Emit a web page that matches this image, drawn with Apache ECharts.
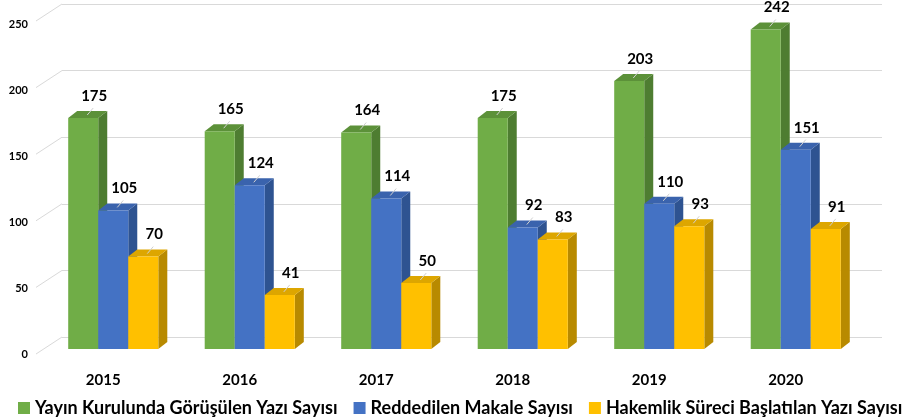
<!DOCTYPE html>
<html>
<head>
<meta charset="utf-8">
<script src="https://cdn.jsdelivr.net/npm/echarts@6/dist/echarts.min.js"></script>
<style>
  html, body { margin: 0; padding: 0; background: #fff; }
  #chart { width: 912px; height: 420px; }
</style>
</head>
<body>
<div id="chart"></div>
<script>
const years = ['2015', '2016', '2017', '2018', '2019', '2020'];
const seriesNames = ['Yayın Kurulunda Görüşülen Yazı Sayısı', 'Reddedilen Makale Sayısı', 'Hakemlik Süreci Başlatılan Yazı Sayısı'];
const gorusulen = [175, 165, 164, 175, 203, 242];
const reddedilen = [105, 124, 114, 92, 110, 151];
const hakemlik = [70, 41, 50, 83, 93, 91];
const yTicks = [0, 50, 100, 150, 200, 250];

// front / side / top colours for each series
const palette = [
    { front: '#70AD47', side: '#4E7D31', top: '#5C9139' },
    { front: '#4472C4', side: '#2E5391', top: '#3A63AD' },
    { front: '#FFC000', side: '#B88A00', top: '#DDA600' }
];
const FONT = 'Lato, "Open Sans", sans-serif';
const DX = 9, DY = 7; // bar depth

function barRenderer (s) {
    return function (params, api) {
        const idx = api.value(0);
        const val = api.value(1);
        const top = api.coord([idx, val]);
        const base = api.coord([idx, 0]);
        const w = api.size([1, 0])[0] * 0.22;
        const x0 = top[0] + (s - 1.5) * w;
        const x1 = x0 + w;
        const y0 = top[1];
        const y1 = base[1];
        const c = palette[s];
        const cx = (x0 + x1) / 2;
        return {
            type: 'group',
            children: [
                { type: 'polygon', shape: { points: [[x1, y0], [x1 + DX, y0 - DY], [x1 + DX, y1 - DY], [x1, y1]] }, style: { fill: c.side } },
                { type: 'polygon', shape: { points: [[x0, y0], [x0 + DX, y0 - DY], [x1 + DX, y0 - DY], [x1, y0]] }, style: { fill: c.top } },
                { type: 'rect', shape: { x: x0, y: y0, width: w, height: y1 - y0 }, style: { fill: c.front } },
                { type: 'line', shape: { x1: cx + 4, y1: y0 - 3, x2: cx + 10, y2: y0 - 10 }, style: { stroke: '#d0d0d0', lineWidth: 1 } },
                { type: 'text', x: cx + 11, y: y0 - 22, style: { text: String(val), fill: '#000', font: 'bold 15px ' + FONT, align: 'center', verticalAlign: 'middle' } }
            ]
        };
    };
}

const values = [gorusulen, reddedilen, hakemlik];
const barSeries = values.map(function (arr, s) {
    return {
        name: seriesNames[s],
        type: 'custom',
        xAxisIndex: 0,
        yAxisIndex: 0,
        z: 5 + s,
        itemStyle: { color: palette[s].front },
        renderItem: barRenderer(s),
        encode: { x: 0, y: 1 },
        data: arr.map(function (v, i) { return [i, v]; })
    };
});

const chart = echarts.init(document.getElementById('chart'));
chart.setOption({
    animation: false,
    backgroundColor: '#fff',
    grid: [
        { left: 45, right: 48, top: 19, bottom: 71 },
        { left: 62, right: 30, top: 4, bottom: 83 }
    ],
    xAxis: [{
        type: 'category',
        gridIndex: 0,
        data: years,
        axisLine: { show: false },
        axisTick: { show: false },
        axisLabel: { margin: 24, padding: [0, 20, 0, 0], color: '#000', fontWeight: 'bold', fontSize: 15, fontFamily: FONT }
    }, {
        type: 'value',
        gridIndex: 1,
        min: 0,
        max: 1,
        show: false
    }],
    yAxis: [{
        type: 'value',
        gridIndex: 0,
        min: 0,
        max: 250,
        interval: 50,
        axisLine: { show: false },
        axisTick: { show: false },
        splitLine: { show: false },
        axisLabel: { margin: 17, verticalAlign: 'top', color: '#000', fontWeight: 'bold', fontSize: 11, fontFamily: FONT }
    }, {
        type: 'value',
        gridIndex: 1,
        min: 0,
        max: 250,
        interval: 50,
        axisLine: { show: false },
        axisTick: { show: false },
        axisLabel: { show: false },
        splitLine: { lineStyle: { color: '#d9d9d9', width: 1 } }
    }],
    legend: {
        left: 13,
        top: 394,
        itemWidth: 12,
        itemHeight: 12,
        itemGap: 16,
        icon: 'rect',
        data: seriesNames,
        textStyle: { color: '#000', fontWeight: 'bold', fontSize: 18, fontFamily: FONT }
    },
    series: [{
        type: 'custom',
        xAxisIndex: 1,
        yAxisIndex: 1,
        z: 1,
        silent: true,
        renderItem: function (params, api) {
            const p = api.coord([0, api.value(0)]);
            return { type: 'line', shape: { x1: p[0] - 26, y1: p[1] + 17, x2: p[0], y2: p[1] }, style: { stroke: '#d9d9d9', lineWidth: 1 } };
        },
        encode: { y: 0 },
        data: yTicks.map(function (v) { return [v]; })
    }].concat(barSeries)
});
</script>
</body>
</html>
